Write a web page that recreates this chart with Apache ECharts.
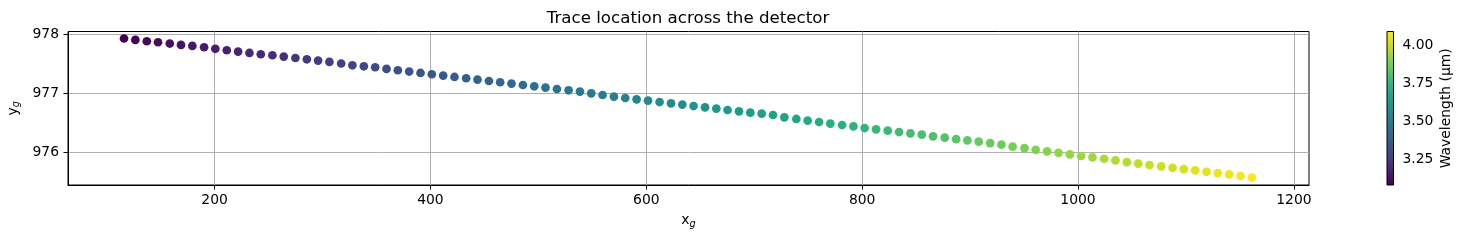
<!DOCTYPE html>
<html>
<head>
<meta charset="utf-8">
<script src="https://cdn.jsdelivr.net/npm/echarts@6/dist/echarts.min.js"></script>
<style>html,body{margin:0;padding:0;background:#fff}#c{width:1463px;height:241px}</style>
</head>
<body>
<div id="c"></div>
<script>
const xVals = [116.1,126.6,137.2,147.6,158.5,168.9,179.4,190.3,200.7,211.3,221.8,232.3,242.8,253.6,264.1,274.9,285.5,295.9,306.4,317.3,327.7,338.3,348.8,359.3,369.8,380.3,390.8,401.3,411.8,422.3,433.1,443.6,454.2,464.6,475.1,485.7,496.2,506.6,517.2,528.0,538.5,549.0,559.5,570.0,580.5,591.0,601.6,612.3,622.9,633.4,643.8,654.4,664.9,675.3,685.9,696.4,706.9,717.4,727.9,739.0,749.5,760.1,770.5,781.4,791.9,802.3,812.9,823.7,834.2,844.7,855.2,865.7,876.5,887.1,897.5,908.0,918.6,929.0,939.4,950.4,960.8,971.4,981.9,992.4,1002.9,1013.4,1024.2,1034.7,1045.2,1055.8,1066.2,1077.1,1087.6,1098.0,1108.6,1119.1,1129.5,1140.1,1150.6,1161.1];
const yVals = [977.934,977.910,977.888,977.871,977.849,977.825,977.808,977.786,977.760,977.735,977.713,977.689,977.667,977.650,977.628,977.604,977.582,977.560,977.537,977.510,977.480,977.463,977.447,977.418,977.396,977.374,977.350,977.328,977.306,977.282,977.260,977.238,977.214,977.192,977.170,977.146,977.124,977.102,977.078,977.056,977.034,977.005,976.976,976.949,976.925,976.903,976.881,976.857,976.835,976.813,976.789,976.767,976.745,976.722,976.699,976.677,976.660,976.637,976.598,976.570,976.542,976.518,976.491,976.467,976.445,976.416,976.394,976.372,976.348,976.326,976.304,976.275,976.253,976.229,976.207,976.185,976.161,976.134,976.100,976.075,976.046,976.020,975.995,975.969,975.942,975.919,975.895,975.868,975.837,975.813,975.789,975.766,975.742,975.720,975.698,975.674,975.652,975.630,975.603,975.574];
const wavelengths = [3.080,3.090,3.101,3.111,3.121,3.131,3.142,3.152,3.162,3.172,3.183,3.193,3.203,3.213,3.224,3.234,3.244,3.254,3.265,3.275,3.285,3.295,3.306,3.316,3.326,3.336,3.347,3.357,3.367,3.377,3.388,3.398,3.408,3.418,3.429,3.439,3.449,3.459,3.470,3.480,3.490,3.500,3.511,3.521,3.531,3.541,3.552,3.562,3.572,3.582,3.593,3.603,3.613,3.623,3.634,3.644,3.654,3.664,3.675,3.685,3.695,3.705,3.716,3.726,3.736,3.746,3.757,3.767,3.777,3.787,3.798,3.808,3.818,3.828,3.839,3.849,3.859,3.869,3.880,3.890,3.900,3.910,3.921,3.931,3.941,3.951,3.962,3.972,3.982,3.992,4.003,4.013,4.023,4.033,4.044,4.054,4.064,4.074,4.085,4.095];
const xTicks = [200, 400, 600, 800, 1000, 1200];
const yTicks = [976, 977, 978];
const cbTicks = [3.25, 3.50, 3.75, 4.00];
const titleText = 'Trace location across the detector';
const cbLabel = 'Wavelength (µm)';
const viridis = ['#440154','#471365','#482475','#463480','#414487','#3b528b','#355f8d','#2f6c8e','#2a788e','#25848e','#21918c','#1e9c89','#22a884','#2fb47c','#44bf70','#5ec962','#7ad151','#9bd93c','#bddf26','#dfe318','#fde725'];

const wMin = Math.min(...wavelengths), wMax = Math.max(...wavelengths);
const data = xVals.map((x, i) => [x, yVals[i], wavelengths[i]]);
const FONT = 'DejaVu Sans';
const FS = 13.9;
const chart = echarts.init(document.getElementById('c'), null, {renderer: 'canvas'});
const labelStyle = {color: '#000', fontFamily: FONT, fontSize: FS};
const subRich = {
  a: {fontFamily: FONT, fontSize: FS, color: '#000'},
  b: {fontFamily: FONT, fontSize: 9.7, fontStyle: 'italic', color: '#000', padding: [7, 0, 0, 0]}
};
const stops = viridis.map((c, i) => ({offset: i / (viridis.length - 1), color: c}));

chart.setOption({
  animation: false,
  backgroundColor: '#fff',
  title: {
    text: titleText, left: 688, top: 10, textAlign: 'center', padding: 0,
    textStyle: {fontFamily: FONT, fontSize: 16.67, fontWeight: 'normal', color: '#000'}
  },
  grid: [
    {left: 68, right: 154, top: 31.5, bottom: 56, show: true, borderColor: '#000', borderWidth: 1, backgroundColor: 'transparent', containLabel: false, outerBoundsMode: 'none'},
    {left: 1387, width: 6.5, top: 31.5, bottom: 56, show: false, containLabel: false, outerBoundsMode: 'none'}
  ],
  xAxis: [{
    type: 'value', gridIndex: 0, min: 64.2, max: 1214,
    name: '{a|x}{b|g}', nameLocation: 'middle', nameGap: 27,
    nameTextStyle: {rich: subRich},
    axisLine: {show: true, onZero: false, lineStyle: {color: '#000', width: 1}},
    axisTick: {show: true, length: 4.5, customValues: xTicks, lineStyle: {color: '#000'}},
    axisLabel: {...labelStyle, margin: 8.5, customValues: xTicks, formatter: v => String(v)},
    splitLine: {show: true, lineStyle: {color: '#b0b0b0', width: 1}}
  }, {
    type: 'value', gridIndex: 1, min: 0, max: 1, show: false
  }],
  yAxis: [{
    type: 'value', gridIndex: 0, min: 975.45, max: 978.053,
    name: '{a|y}{b|g}', nameLocation: 'middle', nameGap: 43,
    nameTextStyle: {rich: subRich},
    axisLine: {show: true, onZero: false, lineStyle: {color: '#000', width: 1}},
    axisTick: {show: true, length: 4.5, customValues: yTicks, lineStyle: {color: '#000'}},
    axisLabel: {...labelStyle, margin: 9, customValues: yTicks, formatter: v => String(v)},
    splitLine: {show: true, lineStyle: {color: '#b0b0b0', width: 1}}
  }, {
    type: 'value', gridIndex: 1, min: wMin, max: wMax, position: 'right',
    name: cbLabel, nameLocation: 'middle', nameGap: 46, nameRotate: 90,
    nameTextStyle: {fontFamily: FONT, fontSize: FS, color: '#000'},
    axisLine: {show: false},
    axisTick: {show: true, length: 4.5, customValues: cbTicks, lineStyle: {color: '#000'}},
    axisLabel: {...labelStyle, margin: 9, customValues: cbTicks, formatter: v => v.toFixed(2)},
    splitLine: {show: false}
  }],
  visualMap: {
    type: 'continuous', show: false, dimension: 2, seriesIndex: 0,
    min: wMin, max: wMax, inRange: {color: viridis}
  },
  series: [{
    type: 'scatter', xAxisIndex: 0, yAxisIndex: 0, data: data,
    symbolSize: 8.7, itemStyle: {opacity: 1}
  }, {
    type: 'custom', xAxisIndex: 1, yAxisIndex: 1, data: [[0, wMin]], silent: true,
    renderItem: function (params, api) {
      const p0 = api.coord([0, wMin]);
      const p1 = api.coord([1, wMax]);
      return {
        type: 'rect',
        shape: {x: p0[0], y: p1[1], width: p1[0] - p0[0], height: p0[1] - p1[1]},
        style: {fill: new echarts.graphic.LinearGradient(0, 1, 0, 0, stops), stroke: '#000', lineWidth: 1}
      };
    }
  }]
});
</script>
</body>
</html>
